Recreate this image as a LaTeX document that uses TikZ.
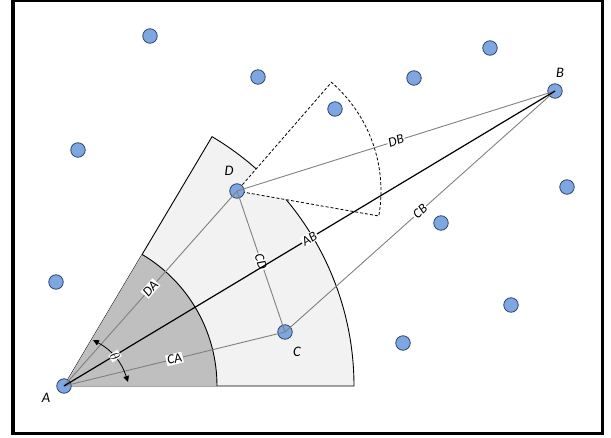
\documentclass[tikz,border=0pt]{standalone}
\usepackage{fontspec}
\setmainfont{Carlito}
\usepackage{tikz}
\usetikzlibrary{
  arrows.meta,
  calc,
  positioning
}
\definecolor{dotblue}{RGB}{126,166,224}
\definecolor{dotrim}{RGB}{47,72,110}
\definecolor{zonelight}{RGB}{242,242,242}
\definecolor{zonedark}{RGB}{191,191,191}
\definecolor{linkgray}{RGB}{128,128,128}
\tikzset{
  >={Triangle[length=6pt,width=5.5pt]},
  line cap=round,
  line join=round,
  sensor/.style={circle, draw=dotrim, fill=dotblue, line width=0.8pt, minimum size=14.5pt, inner sep=0pt},
  link/.style={draw=linkgray, line width=0.9pt},
  mainlink/.style={draw=black, line width=1.2pt},
  linklabel/.style={fill=white, inner sep=1pt, sloped, font=\itshape\fontsize{13.5}{14}\selectfont},
  ptlabel/.style={inner sep=0pt, font=\itshape\fontsize{14.5}{15}\selectfont},
  zone/.style={draw=black, line width=0.9pt},
  cone/.style={draw=black, fill=white, line width=0.8pt, dash pattern=on 3pt off 2pt},
  frame/.style={draw=black, line width=3.5pt}
}
\begin{document}
\begin{tikzpicture}[x=1pt,y=1pt]
  \useasboundingbox (0,0) rectangle (611,437);

  \coordinate (a) at (64,51);
  \coordinate (b) at (555,346);
  \coordinate (c) at (285,105);
  \coordinate (d) at (237,246);

  \fill[zonelight] (a) -- ++(0:290) arc[start angle=0, end angle=59.3, radius=290] -- cycle;
  \draw[zone] (a) -- ++(0:290) arc[start angle=0, end angle=59.3, radius=290] -- cycle;
  \fill[zonedark] (a) -- ++(0:153) arc[start angle=0, end angle=59.3, radius=153] -- cycle;
  \draw[zone] (a) ++(0:153) arc[start angle=0, end angle=59.3, radius=153];
  \filldraw[cone] (d) -- ++(-10:144) arc[start angle=-10, end angle=49, radius=144] -- cycle;

  \foreach \name/\pos in {p1/{(150,401)}, p2/{(258,360)}, p3/{(335,328)}, p4/{(414,359)},
      p5/{(490,389)}, p6/{(78,287)}, p7/{(567,250)}, p8/{(441,214)},
      p9/{(56,155)}, p10/{(511,132)}, p11/{(403,94)}}
    \node[sensor] (\name) at \pos {};
  \node[sensor] (A) at (a) {};
  \node[sensor] (B) at (b) {};
  \node[sensor] (C) at (c) {};
  \node[sensor] (D) at (d) {};

  \draw[link] (A.center) -- node[linklabel] {DA} (D.center);
  \draw[link] (A.center) -- node[linklabel] {CA} (C.center);
  \draw[link] (D.center) -- node[linklabel] {CD} (C.center);
  \draw[link] (D.center) -- node[linklabel] {DB} (B.center);
  \draw[link] (C.center) -- node[linklabel] {CB} (B.center);
  \draw[mainlink] (A.center) -- node[linklabel] {AB} (B.center);

  \coordinate (thtop) at (93,97);
  \coordinate (thlow) at (128,55);
  \draw[<->, line width=0.8pt] (thtop) to[bend left=22] (thlow);
  \node[linklabel, rotate=-55, inner sep=0.5pt] (theta) at (115,81) {$\theta$};

  \node[ptlabel] (labA) at (46,39) {A};
  \node[ptlabel] (labB) at (560,364) {B};
  \node[ptlabel] (labC) at (297,85) {C};
  \node[ptlabel] (labD) at (229,266) {D};

  \draw[frame] (13,3.5) rectangle (602.5,436.5);
\end{tikzpicture}
\end{document}
